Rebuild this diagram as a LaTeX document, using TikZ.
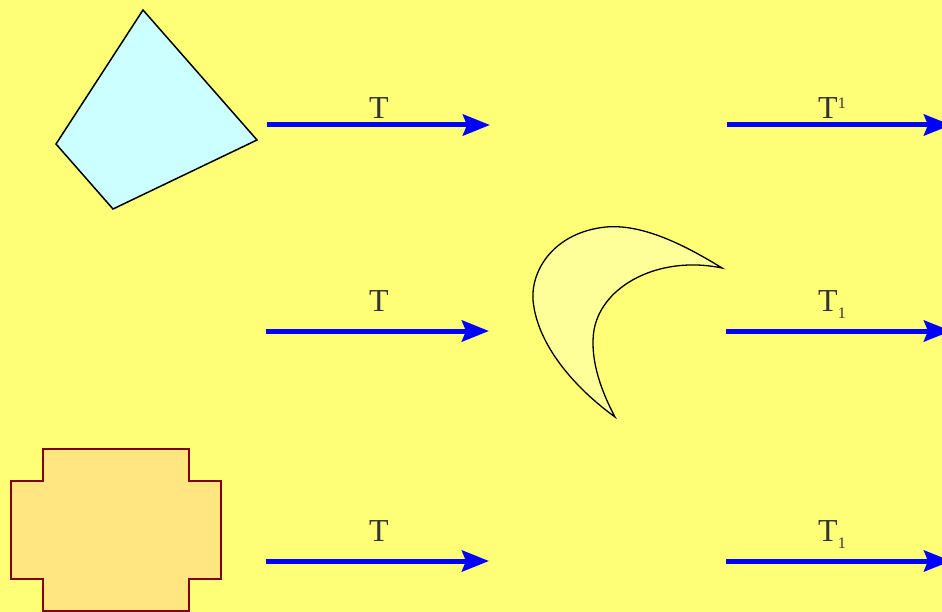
\documentclass[tikz,border=0pt]{standalone}
\usepackage{fontspec}
\setmainfont{Liberation Serif}
\usetikzlibrary{arrows.meta}
\definecolor{bg}{HTML}{FFFF77}
\definecolor{quadfill}{HTML}{CCFFFF}
\definecolor{moonfill}{HTML}{FFFF99}
\definecolor{crossfill}{HTML}{FFE680}
\definecolor{crossline}{HTML}{800018}
\definecolor{txt}{HTML}{333333}
\tikzset{
  maparrow/.style={draw=blue, line width=5pt, -{Stealth[length=27pt,width=21pt,inset=4pt]}},
  maplabel/.style={text=txt, font=\fontsize{32}{34}\selectfont, inner sep=0pt, anchor=base},
}
\newcommand{\smallone}{\fontsize{16}{17}\selectfont 1}
\begin{document}
\begin{tikzpicture}[x=1pt,y=-1pt]
\useasboundingbox (0,0) rectangle (942,612);
\fill[bg] (0,0) rectangle (942,612);
\begin{scope}
\clip (0,0) rectangle (942,612);
% quadrilateral
\draw[fill=quadfill, line width=1.5pt, line join=miter] (143,10) -- (257,140) -- (113,209) -- (56,144) -- cycle;
% crescent
\draw[fill=moonfill, line width=1.3pt]
  (722,268) .. controls (680,242) and (640,224) .. (606,227)
  .. controls (556,232) and (531,268) .. (533,300)
  .. controls (537,345) and (575,388) .. (615,417)
  .. controls (598,385) and (590,355) .. (594,330)
  .. controls (602,285) and (660,255) .. (722,268) -- cycle;
% cross shape
\draw[fill=crossfill, draw=crossline, line width=2.5pt]
  (43,449) -- (189,449) -- (189,481) -- (221,481) -- (221,579) -- (189,579) -- (189,611)
  -- (43,611) -- (43,579) -- (11,579) -- (11,481) -- (43,481) -- cycle;
% arrows
\coordinate (a1s) at (267,125); \coordinate (a1e) at (490,125);
\coordinate (b1s) at (727,125); \coordinate (b1e) at (951,125);
\coordinate (a2s) at (266,331); \coordinate (a2e) at (489,331);
\coordinate (b2s) at (726,331); \coordinate (b2e) at (951,331);
\coordinate (a3s) at (266,561); \coordinate (a3e) at (489,561);
\coordinate (b3s) at (726,561); \coordinate (b3e) at (951,561);
\draw[maparrow] (a1s) -- (a1e);
\draw[maparrow] (b1s) -- (b1e);
\draw[maparrow] (a2s) -- (a2e);
\draw[maparrow] (b2s) -- (b2e);
\draw[maparrow] (a3s) -- (a3e);
\draw[maparrow] (b3s) -- (b3e);
\end{scope}
% labels
\node[maplabel] (la1) at (379,119) {T};
\node[maplabel] (lb1) at (832,119) {T\raisebox{10pt}{\smallone}};
\node[maplabel] (la2) at (379,311) {T};
\node[maplabel] (lb2) at (832,311) {T\raisebox{-7pt}{\smallone}};
\node[maplabel] (la3) at (379,541) {T};
\node[maplabel] (lb3) at (832,541) {T\raisebox{-7pt}{\smallone}};
\end{tikzpicture}
\end{document}
